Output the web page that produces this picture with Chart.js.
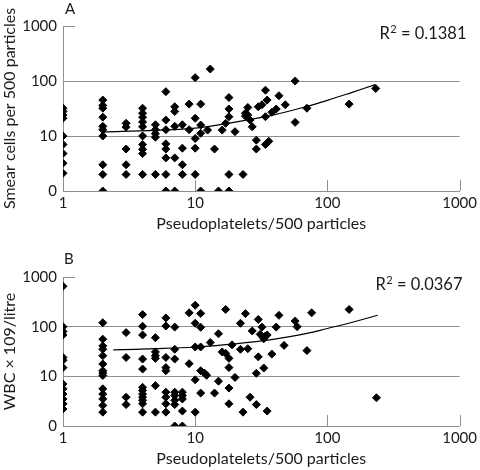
<!DOCTYPE html>
<html>
<head>
<meta charset="utf-8">
<script src="https://cdn.jsdelivr.net/npm/chart.js@4.4.1/dist/chart.umd.min.js"></script>
<style>
  html, body { margin: 0; padding: 0; background: #fff; }
  #wrap { width: 480px; height: 470px; }
  canvas { display: block; }
</style>
</head>
<body>
<div id="wrap">
  <canvas id="chart-a" width="480" height="235"></canvas>
  <canvas id="chart-b" width="480" height="235"></canvas>
</div>
<script>
(function () {
  'use strict';

  // Axis ticks shared by both panels. The bottom of the y axis is drawn at 1 but labelled "0".
  const xTicks = [1, 10, 100, 1000];
  const xTickLabels = ['1', '10', '100', '1000'];
  const yTicks = [1, 10, 100, 1000];
  const yTickLabels = ['0', '10', '100', '1000'];

  // Panel A: smear cells per 500 particles vs pseudoplatelets/500 particles
  const smearX = [
    1, 1, 1, 1, 1, 1, 1, 1, 1,
    2, 2, 2, 2, 2, 2, 2, 2, 2, 2,
    3, 3, 3, 3, 3,
    4, 4, 4, 4, 4, 4, 4, 4, 4, 4,
    5, 5, 5, 5, 5,
    6, 6, 6, 6, 6, 6, 6, 6,
    7, 7, 7, 7, 7,
    8, 8, 8, 8,
    9, 9,
    10, 10, 10, 10, 10,
    11, 11, 11, 11,
    12.4, 13, 14, 15, 16, 17,
    18, 18, 18, 18, 18,
    20, 23, 24, 24, 25, 25, 26, 27, 29, 29, 30, 32,
    34, 34, 34, 35, 35, 36, 38, 41, 43, 48, 57, 57, 70, 146, 232,
  ];
  const smearY = [
    32, 28, 24, 21, 10, 7, 4.8, 3.2, 2.1,
    45, 36, 32, 22, 15, 13, 10, 3, 2, 1,
    17, 14.5, 5.8, 3, 2,
    32, 26, 22, 18, 14.7, 10, 7, 5.7, 4.8, 2,
    16, 13, 11, 9.5, 2,
    64, 19.5, 13, 7.2, 5.8, 4, 2, 1,
    34, 28, 15, 4, 1,
    16, 6, 3, 2,
    38, 13,
    115, 21, 9, 6, 2,
    38, 15.8, 11.2, 1,
    12.8, 165, 5.8, 1, 12.8, 17,
    50, 31, 22.4, 2, 1,
    12, 2, 26, 23, 33, 24, 19.5, 14.7, 8.4, 5.8, 34, 37,
    68, 22.4, 7, 45, 7.5, 8, 27, 31, 54, 37, 100, 17.7, 32, 38, 73,
  ];
  const smearTrendX = [2, 5, 10, 20, 40, 70, 100, 150, 230];
  const smearTrendY = [11.8, 12.7, 13.9, 17.9, 24.5, 34.5, 44.5, 61, 86];

  // Panel B: WBC x 109/litre vs pseudoplatelets/500 particles
  const wbcX = [
    1, 1, 1, 1, 1, 1, 1, 1, 1, 1, 1, 1, 1,
    2, 2, 2, 2, 2, 2, 2, 2, 2, 2, 2, 2, 2, 2,
    3, 3, 3, 3,
    4, 4, 4, 4, 4, 4, 4, 4, 4, 4, 4, 4,
    5, 5, 5, 5, 5, 5,
    6, 6, 6, 6, 6, 6, 6, 6, 6,
    7, 7, 7, 7, 7, 7, 7, 7,
    8, 8, 8, 8, 8,
    9, 9,
    10, 10, 10, 10, 10,
    11, 11, 11, 11, 11, 11.8, 12.2,
    13, 14, 15, 15, 16, 17, 17,
    18, 18, 18, 18, 19, 20, 22, 22, 23, 24, 25, 26, 27,
    29, 29, 30, 30, 31, 32, 33, 33, 34, 35, 35,
    38, 41, 43, 47, 57, 59, 70, 76, 146, 235,
  ];
  const wbcY = [
    650, 100, 80, 68, 24, 21, 15, 7, 5.6, 4.4, 3.5, 2.8, 2.2,
    120, 56, 41, 35, 26, 17.7, 13, 11.7, 10.4, 5.6, 4.4, 3.5, 2.6, 1.9,
    76, 24, 3.8, 2.7,
    175, 102, 68, 22.3, 14, 6, 5.2, 4.4, 3.8, 3.3, 2.8, 1.9,
    60, 31, 26, 23, 6.5, 1.9,
    150, 103, 24, 15, 13, 4.8, 3.8, 2.8, 1.9,
    98, 35, 22.3, 4.8, 4.1, 3.3, 2.7, 1,
    4.8, 4.1, 3.5, 2, 1,
    190, 18,
    270, 117, 39, 8.5, 1.9,
    185, 97, 39, 13, 4.6, 11.5, 10.5,
    48, 4.6, 72, 8, 31, 222, 29,
    23, 15, 5.8, 2.8, 43, 9.5, 117, 35, 1.9, 183, 36, 3.8, 82,
    11.5, 2.7, 140, 24.7, 70, 98, 57, 14.7, 65, 68, 2,
    28, 98, 169, 42, 130, 100, 33, 190, 222, 3.7,
  ];
  const wbcTrendX = [2.4, 5, 10, 20, 40, 70, 100, 150, 240];
  const wbcTrendY = [34, 36, 39, 45, 56, 73, 92, 120, 170];

  const INK = '#1a1a1a';
  const GRID = '#8f8f8f';
  const FONT = 'Lato, "Open Sans", sans-serif';

  const pairs = (xs, ys) => xs.map((x, i) => ({ x, y: ys[i] }));

  // Inward x ticks, a stub at the top of the y axis, panel letter and R² note.
  const axisMarks = {
    id: 'axisMarks',
    beforeDatasetsDraw(chart) {
      const { ctx, chartArea, scales: { x, y } } = chart;
      ctx.save();
      ctx.strokeStyle = GRID;
      ctx.lineWidth = 1;
      ctx.beginPath();
      xTicks.slice(1).forEach(v => {
        const px = Math.round(x.getPixelForValue(v)) + 0.5;
        ctx.moveTo(px, chartArea.bottom);
        ctx.lineTo(px, chartArea.bottom - 11);
      });
      const py = Math.round(y.getPixelForValue(yTicks[yTicks.length - 1])) + 0.5;
      ctx.moveTo(chartArea.left, py);
      ctx.lineTo(chartArea.left + 12, py);
      ctx.stroke();
      ctx.restore();
    },
    afterDraw(chart, args, opts) {
      const { ctx } = chart;
      ctx.save();
      ctx.fillStyle = INK;
      ctx.textBaseline = 'alphabetic';
      ctx.textAlign = 'left';
      ctx.font = `15px ${FONT}`;
      ctx.fillText(opts.letter, opts.letterX, opts.letterY);

      const big = `16.5px ${FONT}`, small = `11px ${FONT}`;
      const rest = ' = ' + opts.r2;
      ctx.font = big;
      const wR = ctx.measureText('R').width, wRest = ctx.measureText(rest).width;
      ctx.font = small;
      const w2 = ctx.measureText('2').width;
      let cx = opts.r2Right - (wR + w2 + wRest);
      ctx.font = big;
      ctx.fillText('R', cx, opts.r2Y);
      cx += wR + 0.5;
      ctx.font = small;
      ctx.fillText('2', cx, opts.r2Y - 6);
      cx += w2;
      ctx.font = big;
      ctx.fillText(rest, cx, opts.r2Y);
      ctx.restore();
    },
  };

  function makePanel(id, pts, trend, yTitle, topPad, marks) {
    return new Chart(document.getElementById(id), {
      type: 'scatter',
      data: {
        datasets: [
          {
            data: pts,
            pointStyle: 'rectRot',
            pointRadius: 4,
            borderWidth: 1,
            backgroundColor: '#000',
            borderColor: '#000',
          },
          {
            type: 'line',
            data: trend,
            borderColor: '#000',
            borderWidth: 1.2,
            pointRadius: 0,
            tension: 0.4,
            fill: false,
          },
        ],
      },
      options: {
        responsive: false,
        animation: false,
        events: [],
        layout: { padding: { top: topPad, right: 18, left: 0, bottom: 2 } },
        plugins: { legend: { display: false }, tooltip: { enabled: false }, axisMarks: marks },
        scales: {
          x: {
            type: 'logarithmic',
            min: 1,
            max: 1000,
            afterBuildTicks: (s) => { s.ticks = xTicks.map(v => ({ value: v })); },
            afterFit: (s) => { s.height = 42; },
            grid: { display: false, drawTicks: false },
            border: { display: true, color: GRID, width: 1 },
            ticks: {
              autoSkip: false,
              maxRotation: 0,
              padding: 3,
              color: INK,
              font: { family: FONT, size: 15 },
              callback: (v) => xTickLabels[xTicks.indexOf(v)] ?? '',
            },
            title: { display: true, text: 'Pseudoplatelets/500 particles', color: INK, font: { family: FONT, size: 16 }, padding: 0 },
          },
          y: {
            type: 'logarithmic',
            min: 1,
            max: 1000,
            afterBuildTicks: (s) => { s.ticks = yTicks.map(v => ({ value: v })); },
            afterFit: (s) => { s.width = 63; },
            grid: {
              drawTicks: false,
              color: (c) => (c.tick && (c.tick.value === 10 || c.tick.value === 100)) ? GRID : 'rgba(0,0,0,0)',
            },
            border: { display: true, color: GRID, width: 1 },
            ticks: {
              autoSkip: false,
              padding: 6,
              color: INK,
              font: { family: FONT, size: 15 },
              callback: (v) => yTickLabels[yTicks.indexOf(v)] ?? '',
            },
            title: { display: true, text: yTitle, color: INK, font: { family: FONT, size: 16 }, padding: 0 },
          },
        },
      },
      plugins: [axisMarks],
    });
  }

  makePanel('chart-a', pairs(smearX, smearY), pairs(smearTrendX, smearTrendY),
    'Smear cells per 500 particles', 26,
    { letter: 'A', letterX: 65, letterY: 14, r2: '0.1381', r2Right: 466, r2Y: 39 });

  makePanel('chart-b', pairs(wbcX, wbcY), pairs(wbcTrendX, wbcTrendY),
    'WBC \u00d7 109/litre', 42,
    { letter: 'B', letterX: 64, letterY: 29, r2: '0.0367', r2Right: 462, r2Y: 55 });
})();
</script>
</body>
</html>
